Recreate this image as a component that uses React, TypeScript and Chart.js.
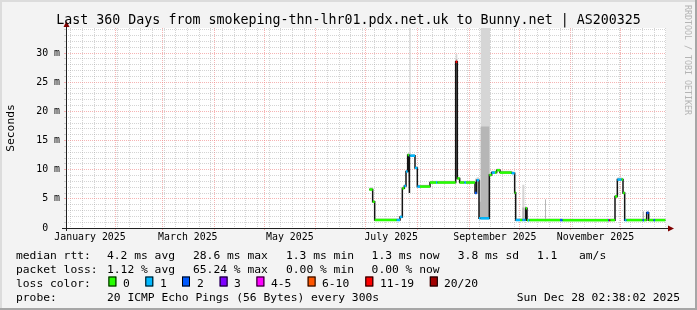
import React, { useEffect, useRef } from 'react';
import { Chart, registerables } from 'chart.js';
Chart.register(...registerables);

const W = 697;
const H = 310;
const MONO = '"DejaVu Sans Mono", monospace';

const TITLE = 'Last 360 Days from smokeping-thn-lhr01.pdx.net.uk to Bunny.net | AS200325';
const WATERMARK = 'RRDTOOL / TOBI OETIKER';
const Y_UNIT = 'Seconds';
const X_MAX_DAYS = 360;
const Y_MAX_MS = 34.3;

// x axis (days since Thu Jan 2 2025 02:38)
const monthGridDays = [29.89, 57.89, 88.89, 118.89, 149.89, 179.89, 210.89, 241.89, 271.89, 302.89, 332.89];
const weekGridDays = [2.89, 9.89, 16.89, 23.89, 30.89, 37.89, 44.89, 51.89, 58.89, 65.89, 72.89, 79.89, 86.89, 93.89, 100.89, 107.89, 114.89, 121.89, 128.89, 135.89, 142.89, 149.89, 156.89, 163.89, 170.89, 177.89, 184.89, 191.89, 198.89, 205.89, 212.89, 219.89, 226.89, 233.89, 240.89, 247.89, 254.89, 261.89, 268.89, 275.89, 282.89, 289.89, 296.89, 303.89, 310.89, 317.89, 324.89, 331.89, 338.89, 345.89, 352.89, 359.89];
const monthLabels = ['January 2025', 'March 2025', 'May 2025', 'July 2025', 'September 2025', 'November 2025'];
const monthLabelDays = [14.4, 73.1, 134.3, 195.1, 257.3, 317.7];

// median rtt segments (start day, ms), loss class, smoke band
const segStart = [
  182.0, 184.0, 185.2, 198.4, 200.4, 201.8, 203.0, 204.0, 205.0, 205.8,
  206.2, 206.8, 209.4, 210.8, 212.4, 218.4, 222.0, 222.8, 233.8, 234.8,
  236.2, 239.0, 240.0, 245.4, 246.4, 247.8, 248.8, 254.0, 254.4, 255.4,
  257.4, 258.4, 260.4, 267.4, 269.2, 269.8, 272.4, 273.8, 275.0, 275.8,
  276.6, 277.2, 278.0, 287.4, 288.0, 296.4, 298.0, 325.4, 326.0, 326.6,
  329.4, 330.8, 333.4, 334.2, 335.2, 336.4, 346.0, 346.8, 348.4, 349.6,
  352.6, 353.4,
];
const dataEndDay = 359.6;
const segMedian = [
  6.6, 4.5, 1.37, 1.37, 1.9, 6.8, 7.2, 9.7, 12.5, 6.0,
  12.4, 12.4, 10.3, 7.1, 7.1, 7.8, 7.8, 7.8, 28.5, 8.5,
  7.8, 7.8, 7.8, 6.0, 8.2, 1.66, 1.66, 9.1, 9.1, 9.5,
  9.5, 9.9, 9.5, 9.4, 6.06, 1.37, 1.37, 1.37, 1.37, 3.4,
  1.35, 1.35, 1.35, 1.35, 1.35, 1.35, 1.35, 1.35, 1.35, 1.35,
  5.4, 8.3, 8.3, 6.0, 1.35, 1.35, 1.35, 1.35, 2.6, 1.35,
  1.35, 1.35,
];
const segLoss = [
  0, 0, 0, 1, 1, 0, 1, 1, 0, 2,
  1, 1, 1, 1, 0, 0, 1, 0, 6, 0,
  0, 1, 0, 2, 1, 1, 1, 0, 0, 1,
  0, 0, 0, 1, 0, 1, 0, 1, 1, 0,
  0, 1, 0, 0, 0, 2, 0, 2, 6, 0,
  0, 1, 0, 0, 1, 0, 2, 0, 2, 0,
  2, 0,
];
const segSmokeLo = [
  6.5, 4.4, 1.3, 1.3, 1.8, 6.7, 7.1, 9.6, 12.4, 5.9,
  12.3, 12.3, 10.2, 7.0, 7.0, 7.7, 7.7, 7.7, 28.3, 8.4,
  7.7, 7.7, 7.7, 5.9, 8.1, 1.55, 1.5, 1.5, 9.0, 9.4,
  9.4, 9.8, 9.4, 9.3, 5.9, 1.3, 1.3, 1.3, 1.3, 3.3,
  1.3, 1.3, 1.3, 1.3, 1.3, 1.3, 1.3, 1.3, 1.3, 1.3,
  5.3, 8.2, 8.2, 5.9, 1.3, 1.3, 1.3, 1.3, 2.5, 1.3,
  1.3, 1.3,
];
const segSmokeMid = [
  6.75, 4.65, 1.52, 1.52, 2.05, 6.95, 7.35, 9.85, 12.65, 6.6,
  12.8, 12.55, 10.45, 7.25, 7.25, 7.95, 7.95, 7.95, 29.0, 8.65,
  7.95, 7.95, 7.95, 6.6, 8.4, 4.5, 17.4, 9.25, 9.25, 9.65,
  9.65, 10.05, 9.65, 9.55, 6.2, 1.52, 1.52, 3.5, 1.52, 3.55,
  1.5, 1.5, 1.5, 4.9, 1.5, 1.5, 1.5, 1.5, 1.5, 1.5,
  5.55, 8.45, 8.45, 6.15, 1.5, 1.5, 2.8, 1.5, 2.8, 1.5,
  1.5, 1.5,
];
const segSmokeHi = [
  7.0, 4.8, 1.67, 1.67, 2.2, 7.1, 7.5, 10.0, 12.8, 7.0,
  34.3, 12.7, 10.6, 7.4, 7.4, 8.1, 8.1, 8.1, 29.8, 8.8,
  8.1, 8.1, 8.1, 8.5, 8.7, 8.2, 34.3, 34.3, 9.4, 9.8,
  9.8, 10.2, 9.8, 9.7, 6.4, 1.67, 1.67, 7.4, 1.67, 3.7,
  1.65, 1.65, 1.65, 4.9, 1.65, 1.65, 1.65, 1.65, 1.65, 1.65,
  5.7, 8.7, 8.6, 6.3, 1.65, 1.65, 2.9, 1.65, 2.9, 1.65,
  1.65, 1.65,
];

const lossColors = ['#26ff00', '#00b8ff', '#0059ff', '#7e00ff', '#ff00ff', '#ff5500', '#ff0000', '#a10000'];
const lossLabels = ['0', '1', '2', '3', '4-5', '6-10', '11-19', '20/20'];
const legendRowLabels = ['median rtt:', 'packet loss:', 'loss color:', 'probe:'];
const rttStats = ['4.2 ms avg', '28.6 ms max', '1.3 ms min', '1.3 ms now', '3.8 ms sd', '1.1', 'am/s'];
const lossStats = ['1.12 % avg', '65.24 % max', '0.00 % min', '0.00 % now'];
const probeText = '20 ICMP Echo Pings (56 Bytes) every 300s';
const dateText = 'Sun Dec 28 02:38:02 2025';

// layout (pixels)
const rttStatX = [107, 193, 286, 371.6, 457.8, 537, 579];
const lossStatX = [107, 193, 286, 371.6];
const lossBoxX = [108.4, 145.3, 182, 219.6, 256.4, 307.6, 365.3, 429.8];
const lossTextX = [123, 160, 197, 234, 271, 322, 380, 444];
const rowBaseY = [258.5, 272.5, 286.5, 300.5];

const MINOR = 'rgba(160,160,160,0.45)';
const MAJOR = 'rgba(240,130,130,0.6)';
const CLEAR = 'rgba(0,0,0,0)';

type XT = { v: number; kind: 'week' | 'month' | 'label'; label: string };
const xTicks: XT[] = [
  ...weekGridDays
    .filter((d) => !monthGridDays.some((m) => Math.abs(m - d) < 0.01))
    .map((d) => ({ v: d, kind: 'week' as const, label: '' })),
  ...monthGridDays.map((d) => ({ v: d, kind: 'month' as const, label: '' })),
  ...monthLabelDays.map((d, i) => ({ v: d, kind: 'label' as const, label: monthLabels[i] })),
].sort((a, b) => a.v - b.v);

const yTickVals: number[] = [];
for (let v = 0; v <= 34; v++) yTickVals.push(v);

function segEnd(i: number) {
  return i + 1 < segStart.length ? segStart[i + 1] : dataEndDay;
}
function stepPoints(vals: number[]) {
  const pts: { x: number; y: number | null }[] = [];
  for (let i = 0; i < segStart.length; i++) {
    pts.push({ x: segStart[i], y: vals[i] }, { x: segEnd(i), y: vals[i] });
  }
  return pts;
}
function levelPoints(vals: number[]) {
  const pts: { x: number; y: number | null }[] = [];
  for (let i = 0; i < segStart.length; i++) {
    pts.push({ x: segStart[i], y: vals[i] }, { x: segEnd(i), y: vals[i] }, { x: segEnd(i), y: null });
  }
  return pts;
}

const rrdPlugin = {
  id: 'rrdFrame',
  beforeDraw(chart: any) {
    const { ctx, chartArea: a } = chart;
    ctx.save();
    ctx.fillStyle = '#f3f3f3';
    ctx.fillRect(0, 0, W, H);
    ctx.fillStyle = '#ffffff';
    ctx.fillRect(a.left, a.top, a.right - a.left, a.bottom - a.top);
    ctx.fillStyle = '#dcdcdc';
    ctx.fillRect(0, 0, W, 2);
    ctx.fillRect(0, 0, 2, H);
    ctx.fillStyle = '#a6a6a6';
    ctx.fillRect(0, H - 2, W, 2);
    ctx.fillRect(W - 2, 0, 2, H);
    ctx.restore();
  },
  afterDraw(chart: any) {
    const { ctx, chartArea: a } = chart;
    ctx.save();
    // axes
    ctx.strokeStyle = '#202020';
    ctx.lineWidth = 1;
    ctx.beginPath();
    ctx.moveTo(a.left - 4, a.bottom + 0.5);
    ctx.lineTo(a.right + 3, a.bottom + 0.5);
    ctx.moveTo(a.left + 0.5, a.bottom + 3);
    ctx.lineTo(a.left + 0.5, a.top - 1);
    ctx.stroke();
    ctx.fillStyle = '#7f0000';
    ctx.beginPath();
    ctx.moveTo(a.right + 2, a.bottom - 2.5);
    ctx.lineTo(a.right + 8, a.bottom + 0.5);
    ctx.lineTo(a.right + 2, a.bottom + 3.5);
    ctx.closePath();
    ctx.fill();
    ctx.beginPath();
    ctx.moveTo(a.left - 2.5, a.top - 1);
    ctx.lineTo(a.left + 0.5, a.top - 7);
    ctx.lineTo(a.left + 3.5, a.top - 1);
    ctx.closePath();
    ctx.fill();

    // title
    ctx.fillStyle = '#000';
    ctx.font = `13.3px ${MONO}`;
    ctx.textAlign = 'center';
    ctx.textBaseline = 'alphabetic';
    ctx.fillText(TITLE, W / 2, 23.5);

    // watermark
    ctx.save();
    ctx.translate(685, 5);
    ctx.rotate(Math.PI / 2);
    ctx.font = `8.3px ${MONO}`;
    ctx.fillStyle = '#b4b4b4';
    ctx.textAlign = 'left';
    ctx.textBaseline = 'alphabetic';
    ctx.fillText(WATERMARK, 0, 0);
    ctx.restore();

    // legend
    ctx.font = `11.3px ${MONO}`;
    ctx.fillStyle = '#000';
    ctx.textAlign = 'left';
    ctx.textBaseline = 'alphabetic';
    legendRowLabels.forEach((t, i) => ctx.fillText(t, 16, rowBaseY[i]));
    rttStats.forEach((t, i) => ctx.fillText(t, rttStatX[i], rowBaseY[0]));
    lossStats.forEach((t, i) => ctx.fillText(t, lossStatX[i], rowBaseY[1]));
    lossLabels.forEach((t, i) => {
      ctx.fillStyle = lossColors[i];
      ctx.fillRect(lossBoxX[i], rowBaseY[2] - 10, 8, 10);
      ctx.strokeStyle = '#000';
      ctx.strokeRect(lossBoxX[i] + 0.5, rowBaseY[2] - 9.5, 7, 9);
      ctx.fillStyle = '#000';
      ctx.fillText(t, lossTextX[i], rowBaseY[2]);
    });
    ctx.fillText(probeText, 107, rowBaseY[3]);
    ctx.textAlign = 'right';
    ctx.fillText(dateText, 680, rowBaseY[3]);
    ctx.restore();
  },
};

export default function App() {
  const ref = useRef<HTMLCanvasElement | null>(null);
  useEffect(() => {
    document.body.style.margin = '0';
    const canvas = ref.current!;
    const noLine = 'rgba(0,0,0,0)';
    const chart = new Chart(canvas, {
      type: 'line',
      data: {
        datasets: [
          { label: 'smoke lo', data: stepPoints(segSmokeLo), borderColor: noLine, borderWidth: 1, pointRadius: 0, fill: false, order: 4 },
          { label: 'smoke hi', data: stepPoints(segSmokeHi), borderColor: noLine, borderWidth: 1, pointRadius: 0, fill: '-1', backgroundColor: '#d6d6d6', order: 3 },
          { label: 'smoke mid', data: stepPoints(segSmokeMid), borderColor: noLine, borderWidth: 1, pointRadius: 0, fill: '-2', backgroundColor: '#b6b6b6', order: 2 },
          { label: 'median', data: stepPoints(segMedian), borderColor: '#141414', borderWidth: 1.5, pointRadius: 0, fill: false, order: 1 },
          {
            label: 'median loss',
            data: levelPoints(segMedian),
            borderColor: lossColors[0],
            borderWidth: 2.5,
            borderCapStyle: 'butt',
            pointRadius: 0,
            fill: false,
            spanGaps: false,
            order: 0,
            segment: {
              borderColor: (c: any) => lossColors[segLoss[Math.floor(c.p0DataIndex / 3)]],
            },
          },
        ] as any,
      },
      options: {
        responsive: false,
        devicePixelRatio: 1,
        animation: false,
        events: [],
        layout: { padding: { top: 28, right: 31, bottom: 0, left: 0 } },
        plugins: { legend: { display: false }, tooltip: { enabled: false }, title: { display: false } },
        scales: {
          x: {
            type: 'linear',
            min: 0,
            max: X_MAX_DAYS,
            afterBuildTicks: (s: any) => {
              s.ticks = xTicks.map((t) => ({ value: t.v }));
            },
            afterFit: (s: any) => {
              s.height = H - 228;
            },
            grid: {
              lineWidth: 1,
              tickLength: 2,
              color: (c: any) => {
                const t = xTicks[c.index];
                if (!t) return CLEAR;
                return t.kind === 'month' ? MAJOR : t.kind === 'week' ? MINOR : CLEAR;
              },
              tickColor: (c: any) => {
                const t = xTicks[c.index];
                return t && t.kind === 'month' ? MAJOR : CLEAR;
              },
            },
            border: { display: false, dash: [1, 1] },
            ticks: {
              autoSkip: false,
              maxRotation: 0,
              minRotation: 0,
              padding: 1,
              color: '#000',
              font: { family: MONO, size: 9.9 },
              callback: (_v: any, i: number) => (xTicks[i] ? xTicks[i].label : ''),
            },
          },
          y: {
            type: 'linear',
            min: 0,
            max: Y_MAX_MS,
            afterBuildTicks: (s: any) => {
              s.ticks = yTickVals.map((v) => ({ value: v }));
            },
            afterFit: (s: any) => {
              s.width = 66;
            },
            grid: {
              lineWidth: 1,
              tickLength: 2,
              color: (c: any) => {
                const v = yTickVals[c.index];
                return v % 5 === 0 ? MAJOR : MINOR;
              },
            },
            border: { display: false, dash: [1, 1] },
            title: {
              display: true,
              text: Y_UNIT,
              color: '#000',
              font: { family: MONO, size: 11.3 },
              padding: { top: 4, bottom: 0 },
            },
            ticks: {
              autoSkip: false,
              padding: 4,
              color: '#000',
              font: { family: MONO, size: 9.9 },
              callback: (_v: any, i: number) => {
                const v = yTickVals[i];
                if (v % 5 !== 0) return '';
                return v === 0 ? '0\u00a0\u00a0' : `${v} m`;
              },
            },
          },
        },
      } as any,
      plugins: [rrdPlugin],
    });
    return () => chart.destroy();
  }, []);
  return <canvas ref={ref} width={W} height={H} style={{ display: 'block', width: W, height: H }} />;
}
